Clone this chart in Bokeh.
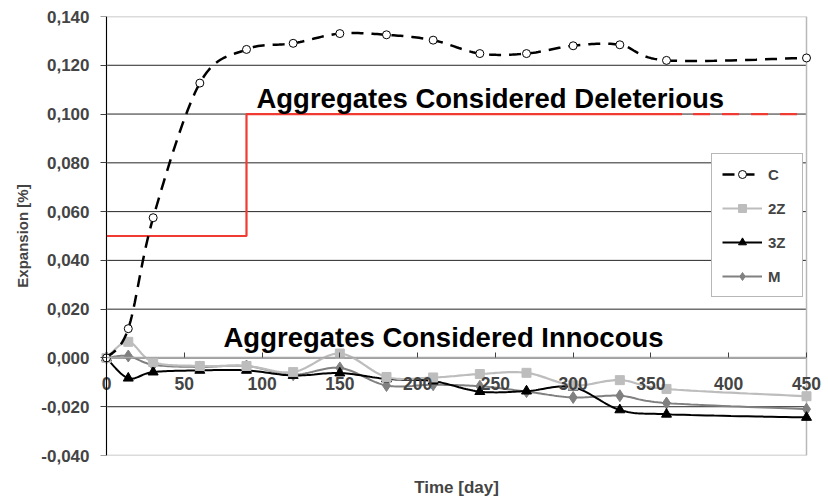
import numpy as np
from bokeh.plotting import figure
from bokeh.models import Range1d, LinearAxis, FixedTicker, Legend, LegendItem, Label
from bokeh.embed import file_html
from bokeh.resources import INLINE

# ---------------- data ----------------
days = [0, 14, 30, 60, 90, 120, 150, 180, 210, 240, 270, 300, 330, 360, 450]
c_values = [0.000, 0.012, 0.0575, 0.1127, 0.1265, 0.129, 0.133, 0.1325, 0.1303,
            0.1248, 0.1248, 0.128, 0.1284, 0.122, 0.123]
z2_values = [0.000, 0.0066, -0.0017, -0.0033, -0.0033, -0.0058, 0.0018, -0.0078,
             -0.0080, -0.0066, -0.0061, -0.0112, -0.0091, -0.0127, -0.0157]
z3_values = [0.000, -0.0083, -0.0058, -0.0051, -0.0051, -0.0072, -0.0062, -0.0086,
             -0.0095, -0.0138, -0.0136, -0.0120, -0.0213, -0.0231, -0.0244]
m_values = [0.000, 0.0008, -0.0028, -0.0037, -0.0033, -0.0069, -0.0041, -0.0113,
            -0.0110, -0.0116, -0.0138, -0.0162, -0.0155, -0.0185, -0.0210]

limit_days = [0, 90, 370]
limit_values = [0.050, 0.100, 0.100]
limit_end_day = 450

x_ticks = [0, 50, 100, 150, 200, 250, 300, 350, 400, 450]
x_tick_labels = ["0", "50", "100", "150", "200", "250", "300", "350", "400", "450"]
y_ticks = [-0.04, -0.02, 0.0, 0.02, 0.04, 0.06, 0.08, 0.10, 0.12, 0.14]
y_tick_labels = ["-0,040", "-0,020", "0,000", "0,020", "0,040", "0,060",
                 "0,080", "0,100", "0,120", "0,140"]

series_names = ["C", "2Z", "3Z", "M"]


def smooth(xs, ys, n=20):
    """Excel-style smoothed line: cubic Bezier (Catmull-Rom) through the data points."""
    xs = np.asarray(xs, float)
    ys = np.asarray(ys, float)
    px = np.concatenate([[xs[0]], xs, [xs[-1]]])
    py = np.concatenate([[ys[0]], ys, [ys[-1]]])
    t = np.linspace(0, 1, n + 1)[1:]
    ox, oy = [xs[0]], [ys[0]]
    for i in range(1, len(px) - 2):
        x0, x1, x2, x3 = px[i - 1], px[i], px[i + 1], px[i + 2]
        y0, y1, y2, y3 = py[i - 1], py[i], py[i + 1], py[i + 2]
        cx1, cy1 = x1 + (x2 - x0) / 6, y1 + (y2 - y0) / 6
        cx2, cy2 = x2 - (x3 - x1) / 6, y2 - (y3 - y1) / 6
        a, b, c, d = (1 - t) ** 3, 3 * (1 - t) ** 2 * t, 3 * (1 - t) * t ** 2, t ** 3
        ox.extend(a * x1 + b * cx1 + c * cx2 + d * x2)
        oy.extend(a * y1 + b * cy1 + c * cy2 + d * y2)
    return ox, oy


FONT = "Liberation Sans"

# layout (pixels): plot area 106..806 horizontally; the frame is 16 px wider on each
# side so that the tick labels of the axis crossing at y = 0 are not clipped
W, H = 828, 499
AREA_L, AREA_R, EXTRA = 106, 806, 16
x_lo, x_hi = x_ticks[0], x_ticks[-1]
ppd = (AREA_R - AREA_L) / (x_hi - x_lo)
x_range = Range1d(x_lo - EXTRA / ppd, x_hi + EXTRA / ppd)

p = figure(width=W, height=H, output_backend="svg", toolbar_location=None,
           x_axis_type=None, y_axis_type=None, x_range=x_range,
           y_range=Range1d(y_ticks[0], y_ticks[-1]),
           min_border_left=AREA_L - EXTRA, min_border_right=W - AREA_R - EXTRA,
           min_border_top=16, min_border_bottom=43)
p.outline_line_color = None
p.background_fill_color = "white"
p.border_fill_color = "white"
p.xgrid.visible = False
p.ygrid.visible = False

# y tick labels + axis title (left panel)
ylab = LinearAxis(ticker=FixedTicker(ticks=y_ticks),
                  major_label_overrides=dict(zip(y_ticks, y_tick_labels)),
                  axis_label="Expansion [%]", axis_label_text_font=FONT,
                  axis_label_text_font_style="bold", axis_label_text_font_size="15px",
                  axis_label_standoff=7, major_label_text_font=FONT,
                  major_label_text_font_style="bold", major_label_text_font_size="17px",
                  major_label_standoff=1, major_tick_in=0, major_tick_out=0,
                  minor_tick_line_color=None, axis_line_color=None)
p.add_layout(ylab, "left")

# gridlines and plot-area border
inner = y_ticks[1:-1]
p.segment(x0=[x_lo] * len(inner), y0=inner, x1=[x_hi] * len(inner), y1=inner,
          line_color="#262626", line_width=1)
p.quad(left=x_lo, right=x_hi, bottom=y_ticks[0], top=y_ticks[-1],
       fill_color=None, line_color="#B8B8B8", line_width=1.5)

# y axis line at x = 0
yline = LinearAxis(fixed_location=x_lo, ticker=FixedTicker(ticks=y_ticks),
                   axis_line_color="black", major_tick_in=0, major_tick_out=6,
                   major_tick_line_color="#404040", minor_tick_line_color=None,
                   major_label_text_color=None, major_label_text_font_size="1px")
p.add_layout(yline, "left")

# x axis crossing at y = 0
xaxis = LinearAxis(fixed_location=0, bounds=(x_lo, x_hi), ticker=FixedTicker(ticks=x_ticks),
                   major_label_overrides=dict(zip(x_ticks, x_tick_labels)),
                   axis_line_color="#A8A8A8", axis_line_width=1.5,
                   major_tick_in=5, major_tick_out=0, major_tick_line_color="#404040",
                   minor_tick_line_color=None, major_label_standoff=19,
                   major_label_text_font=FONT, major_label_text_font_style="bold",
                   major_label_text_font_size="17.5px")
p.add_layout(xaxis, "below")

taxis = LinearAxis(ticker=FixedTicker(ticks=[]), axis_label="Time [day]",
                   axis_line_color=None, major_tick_in=0, major_tick_out=0,
                   minor_tick_line_color=None, axis_label_standoff=22,
                   axis_label_text_font=FONT, axis_label_text_font_style="bold",
                   axis_label_text_font_size="17px")
p.add_layout(taxis, "below")

# threshold line
RED = "#F03A32"
p.step(limit_days, limit_values, mode="after", line_color=RED, line_width=2.2)
p.line([limit_days[-1], limit_end_day], [limit_values[-1], limit_values[-1]],
       line_color=RED, line_width=2.2, line_dash="17 12", line_dash_offset=-11)

# series
sx, sy = smooth(days, m_values)
m_line = p.line(sx, sy, line_color="#808080", line_width=2)
m_pts = p.scatter(days, m_values, marker="diamond", size=12, fill_color="#808080",
                  line_color="#808080")

sx, sy = smooth(days, z3_values)
z3_line = p.line(sx, sy, line_color="black", line_width=2)
z3_pts = p.scatter(days, z3_values, marker="triangle", size=10, fill_color="black",
                   line_color="black")

sx, sy = smooth(days, z2_values)
z2_line = p.line(sx, sy, line_color="#BDBDBD", line_width=2.2)
z2_pts = p.scatter(days, z2_values, marker="square", size=9, fill_color="#BDBDBD",
                   line_color="#BDBDBD")

sx, sy = smooth(days, c_values)
c_line = p.line(sx, sy, line_color="black", line_width=2.5, line_dash="12 8")
c_pts = p.scatter(days, c_values, marker="circle", size=8, fill_color="white",
                  line_color="black", line_width=1)

# annotations
p.add_layout(Label(x=96.4, y=0.1062, text="Aggregates Considered Deleterious",
                   text_font=FONT, text_font_style="bold", text_font_size="27.5px",
                   text_baseline="alphabetic", text_align="left", text_color="black"))
p.add_layout(Label(x=75.2, y=0.0082, text="Aggregates Considered Innocous",
                   text_font=FONT, text_font_style="bold", text_font_size="27.5px",
                   text_baseline="alphabetic", text_align="left", text_color="black"))

legend = Legend(items=[
    LegendItem(label=series_names[0], renderers=[c_line, c_pts]),
    LegendItem(label=series_names[1], renderers=[z2_line, z2_pts]),
    LegendItem(label=series_names[2], renderers=[z3_line, z3_pts]),
    LegendItem(label=series_names[3], renderers=[m_line, m_pts]),
], location=(711 - (AREA_L - EXTRA), 158))
legend.glyph_width = 40
legend.glyph_height = 20
legend.label_height = 20
legend.label_width = 24
legend.spacing = 14
legend.padding = 10
legend.margin = 0
legend.label_standoff = 6
legend.label_text_font = FONT
legend.label_text_font_style = "bold"
legend.label_text_font_size = "15px"
legend.border_line_color = "#707070"
legend.border_line_width = 1
legend.background_fill_color = "white"
legend.background_fill_alpha = 1
p.add_layout(legend)

open("out.html", "w").write(file_html(p, INLINE))
